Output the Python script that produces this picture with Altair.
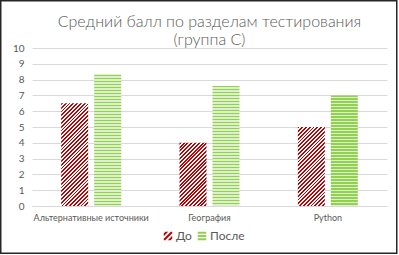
import altair as alt
import pandas as pd

categories = ["Альтернативные источники", "География", "Python"]
series = ["До", "После"]
before = [6.5, 4.0, 5.0]
after = [8.3, 7.6, 7.0]
title_lines = ["Средний балл по разделам тестирования", "(группа С)"]
y_ticks = list(range(0, 11))
colors = ["#C00000", "#92D050"]

rows = []
for c, b, a in zip(categories, before, after):
    rows.append({"cat": c, "ser": series[0], "val": b})
    rows.append({"cat": c, "ser": series[1], "val": a})
df = pd.DataFrame(rows)

FONT = "Lato"
GRAY = "#595959"
GRID = "#D9D9D9"
W, H = 355, 158
YMAX = 10
P_IN, P_OUT = 0.182, 0.884
band = W / len(categories)
step = band / (2 - P_IN + 2 * P_OUT)
BAR_W = step * (1 - P_IN)


def stripe_stops(length, period, frac, fg, bg):
    stops = []
    pos = 0.0
    while pos < length:
        a = pos / length
        b = min((pos + period * frac) / length, 1.0)
        c = min((pos + period) / length, 1.0)
        stops.append(alt.GradientStop(color=fg, offset=a))
        stops.append(alt.GradientStop(color=fg, offset=b))
        if b < 1.0:
            stops.append(alt.GradientStop(color=bg, offset=b))
            stops.append(alt.GradientStop(color=bg, offset=c))
        pos += period
    return stops


def diag_fill(value):
    w, h = BAR_W, value / YMAX * H
    s = w + h
    n2 = w * w + h * h
    return alt.LinearGradient(
        gradient="linear",
        stops=stripe_stops(s, 3.8, 0.5, colors[0], "#FFFFFF"),
        x1=0, y1=0, x2=w * s / n2, y2=h * s / n2,
    )


def horiz_fill(value):
    h = value / YMAX * H
    return alt.LinearGradient(
        gradient="linear",
        stops=stripe_stops(h, 3.0, 0.45, colors[1], "#DDF0CB"),
        x1=0, y1=0, x2=0, y2=1,
    )


def clip(poly, a, b, c):
    out = []
    n = len(poly)
    for i in range(n):
        p, q = poly[i], poly[(i + 1) % n]
        fp = a * p[0] + b * p[1] - c
        fq = a * q[0] + b * q[1] - c
        if fp <= 0:
            out.append(p)
        if (fp < 0 < fq) or (fq < 0 < fp):
            t = fp / (fp - fq)
            out.append((p[0] + t * (q[0] - p[0]), p[1] + t * (q[1] - p[1])))
    return out


def poly_path(poly):
    return "M" + " L".join(f"{x:.3f},{y:.3f}" for x, y in poly) + " Z"


square = [(-1, -1), (1, -1), (1, 1), (-1, 1)]
diag_path = " ".join(
    poly_path(clip(clip(square, 1, 1, c1), -1, -1, -c0))
    for c0, c1 in [(-1.6, -0.95), (-0.33, 0.33), (0.95, 1.6)]
)
horiz_path = " ".join(
    poly_path(clip(clip(square, 0, 1, y1), 0, -1, -y0))
    for y0, y1 in [(-1, -0.55), (-0.22, 0.22), (0.55, 1)]
)

x_enc = alt.X(
    "cat:N",
    sort=categories,
    scale=alt.Scale(domain=categories, paddingInner=0, paddingOuter=0),
    axis=alt.Axis(
        title=None, labelAngle=0, ticks=False, labelPadding=7,
        labelFont=FONT, labelFontSize=9, labelColor=GRAY,
        domainColor=GRID, domainWidth=1,
    ),
)
xo_enc = alt.XOffset(
    "ser:N",
    scale=alt.Scale(domain=series, paddingInner=P_IN, paddingOuter=P_OUT),
)
y_axis = alt.Axis(
    title=None, values=y_ticks, ticks=False, domain=False, labelPadding=8,
    labelFont=FONT, labelFontSize=10, labelColor=GRAY,
    gridColor=GRID, gridWidth=1,
)
y_scale = alt.Scale(domain=[0, YMAX], nice=False)

leg = alt.Legend(
    title=None, orient="none", legendX=130, legendY=182, direction="horizontal",
    symbolSize=72, symbolStrokeWidth=0, labelFont=FONT, labelFontSize=12,
    labelColor=GRAY, columnPadding=4, labelOffset=2,
)

legend_layer = (
    alt.Chart(df)
    .transform_calculate(mid="datum.val / 2")
    .mark_point(filled=True, size=16, opacity=1, strokeWidth=0)
    .encode(
        x=x_enc,
        xOffset=xo_enc,
        y=alt.Y("mid:Q", scale=y_scale, axis=y_axis),
        color=alt.Color("ser:N", scale=alt.Scale(domain=series, range=colors), legend=leg),
        shape=alt.Shape("ser:N", scale=alt.Scale(domain=series, range=[diag_path, horiz_path]), legend=leg),
    )
)

layers = [legend_layer]
for i, row in df.iterrows():
    fill = diag_fill(row["val"]) if row["ser"] == series[0] else horiz_fill(row["val"])
    layers.append(
        alt.Chart(df)
        .transform_filter(
            (alt.datum.cat == row["cat"]) & (alt.datum.ser == row["ser"])
        )
        .mark_bar(fill=fill, stroke=None, strokeWidth=0)
        .encode(
            x=x_enc,
            xOffset=xo_enc,
            y=alt.Y("val:Q", scale=y_scale, axis=y_axis),
        )
    )

# decorative outer frame of the chart area
frame = (
    alt.Chart(df.head(1))
    .mark_rect(filled=False, stroke="#262626", strokeWidth=1.5, clip=False)
    .encode(
        x=alt.value(-31.25), x2=alt.value(364.75),
        y=alt.value(-47.25), y2=alt.value(205.25),
    )
)
layers.append(frame)

chart = (
    alt.layer(*layers)
    .properties(
        width=W,
        height=H,
        autosize=alt.AutoSizeParams(type="none"),
        padding={"left": 32, "top": 48, "right": 12, "bottom": 49},
        title=alt.TitleParams(
            text=title_lines, font=FONT, fontSize=16, fontWeight=300,
            color=GRAY, anchor="middle", offset=-48, lineHeight=18,
        ),
        background="white",
    )
    .configure_view(stroke=None)
)

chart.save("out.html", embed_options={"renderer": "svg", "actions": False})
